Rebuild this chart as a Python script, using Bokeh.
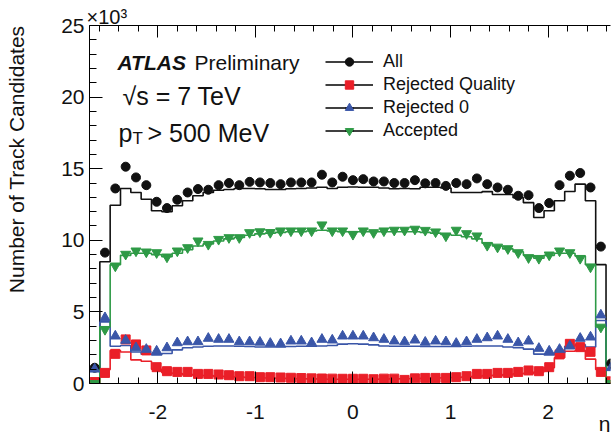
import numpy as np
from bokeh.plotting import figure
from bokeh.models import (Range1d, LinearAxis, Label, Legend, LegendItem, Title,
                          ColumnDataSource, SingleIntervalTicker, NumeralTickFormatter)
from bokeh.embed import file_html
from bokeh.resources import INLINE

# ---- binning: 51 bins in eta over [-2.7, 2.7] ----
eta_edges = np.linspace(-2.7, 2.7, 52)
eta_centers = 0.5 * (eta_edges[:-1] + eta_edges[1:])

# ---- data points (thousands of track candidates), bins k=-25..25 ----
all_pts = [1.1, 9.14, 13.62, 15.14, 14.39, 13.85, 12.69, 12.25, 12.83, 13.34,
           13.58, 13.53, 13.85, 14.0, 13.85, 14.08, 14.04, 14.0, 13.92, 14.04,
           14.04, 14.04, 14.58, 14.04, 14.44, 14.2, 14.27, 14.11, 14.11, 14.0,
           14.0, 14.2, 13.98, 14.0, 13.8, 14.0, 13.92, 14.32, 13.92, 13.69,
           13.53, 13.11, 13.15, 12.25, 12.6, 13.85, 14.51, 14.7, 13.69, 9.56, 1.4]
rejq_pts = [0.1, 0.74, 2.07, 3.08, 2.73, 2.31, 1.14, 0.86, 0.81, 0.81,
            0.67, 0.67, 0.63, 0.58, 0.51, 0.51, 0.44, 0.44, 0.42, 0.4,
            0.38, 0.36, 0.35, 0.34, 0.33, 0.33, 0.33, 0.3, 0.34, 0.34,
            0.25, 0.36, 0.39, 0.39, 0.39, 0.44, 0.51, 0.67, 0.67, 0.74,
            0.74, 0.81, 0.91, 0.86, 1.14, 2.03, 2.77, 2.54, 2.21, 0.81, 0.15]
rej0_pts = [1.0, 4.59, 3.31, 3.01, 2.49, 2.38, 2.26, 2.49, 2.84, 2.91,
            2.91, 3.15, 3.08, 3.08, 2.91, 2.91, 2.88, 2.8, 2.77, 2.96,
            2.96, 2.84, 3.08, 3.03, 3.31, 3.31, 3.31, 3.19, 3.08, 2.96,
            2.91, 3.03, 2.88, 2.96, 2.91, 2.8, 2.91, 3.08, 3.19, 3.31,
            3.08, 2.84, 2.96, 2.45, 2.26, 2.38, 2.61, 3.15, 3.24, 4.78, 1.1]
acc_pts = [0.0, 3.78, 8.21, 9.03, 9.26, 9.19, 9.14, 8.84, 9.26, 9.49,
           9.96, 9.72, 10.07, 10.19, 10.19, 10.54, 10.6, 10.55, 10.66, 10.66,
           10.66, 10.66, 11.08, 10.66, 10.66, 10.42, 10.66, 10.54, 10.66, 10.71,
           10.71, 10.78, 10.7, 10.59, 10.31, 10.71, 10.47, 10.31, 9.65, 9.53,
           9.42, 9.14, 8.79, 8.74, 8.98, 9.26, 9.14, 8.74, 8.14, 3.94, 0.0]

# ---- histograms (simulation) ----
all_hist = [1.05, 8.5, 12.45, 13.62, 13.34, 12.87, 12.06, 11.99, 12.41, 12.76,
            13.11, 13.34, 13.5, 13.55, 13.62, 13.62, 13.6, 13.55, 13.55, 13.6,
            13.62, 13.65, 13.7, 13.62, 13.7, 13.72, 13.7, 13.7, 13.65, 13.6,
            13.62, 13.6, 13.7, 13.7, 13.65, 13.34, 13.34, 13.34, 13.4, 13.2,
            13.2, 12.98, 12.63, 11.59, 12.06, 12.76, 13.41, 13.92, 12.76, 8.3, 1.05]
rejq_hist = [0.05, 0.97, 2.3, 2.2, 1.65, 1.55, 1.0, 0.75, 0.7, 0.62,
             0.58, 0.55, 0.5, 0.48, 0.45, 0.42, 0.4, 0.38, 0.36, 0.35,
             0.33, 0.32, 0.31, 0.3, 0.3, 0.3, 0.3, 0.3, 0.31, 0.32,
             0.33, 0.34, 0.36, 0.38, 0.4, 0.42, 0.45, 0.5, 0.55, 0.58,
             0.62, 0.68, 0.72, 0.8, 1.1, 1.8, 2.25, 2.3, 1.7, 0.98, 0.05]
rej0_hist = [1.0, 4.3, 2.6, 2.65, 2.2, 2.05, 2.0, 2.1, 2.35, 2.5,
             2.55, 2.6, 2.62, 2.62, 2.6, 2.58, 2.55, 2.55, 2.55, 2.58,
             2.6, 2.6, 2.62, 2.65, 2.75, 2.78, 2.75, 2.7, 2.62, 2.6,
             2.6, 2.6, 2.58, 2.58, 2.58, 2.58, 2.6, 2.62, 2.62, 2.62,
             2.55, 2.5, 2.4, 2.05, 2.0, 2.15, 2.6, 2.7, 2.55, 4.4, 1.0]
acc_hist = [0.0, 3.95, 8.3, 8.95, 9.1, 9.1, 9.0, 8.85, 9.1, 9.35,
            9.6, 9.75, 9.95, 10.1, 10.2, 10.35, 10.45, 10.5, 10.55, 10.6,
            10.6, 10.65, 10.7, 10.65, 10.6, 10.6, 10.6, 10.6, 10.6, 10.6,
            10.6, 10.6, 10.55, 10.5, 10.4, 10.35, 10.25, 10.1, 9.8, 9.6,
            9.4, 9.2, 8.95, 8.75, 8.95, 9.1, 9.1, 8.9, 8.3, 3.95, 0.0]

series_labels = ["All", "Rejected Quality", "Rejected 0", "Accepted"]
y_ticks_label = "\u00d710\u00b3"
x_title = "\u03b7"
y_title = "Number of Track Candidates"

BLACK = "#111111"
RED = "#ea1f28"
BLUE = "#3a56a8"
GREEN = "#2e9a46"
FONT = "Liberation Sans"

p = figure(width=611, height=432, output_backend="svg", toolbar_location=None,
           x_range=Range1d(-2.7, 2.64), y_range=Range1d(0, 25),
           min_border_left=89, min_border_right=1, min_border_top=25,
           min_border_bottom=49)
p.outline_line_color = None
p.xgrid.visible = False
p.ygrid.visible = False
p.background_fill_color = "white"
p.border_fill_color = "white"


def style_axis(ax, labels=True, major=12, minor=6):
    ax.axis_line_color = "black"
    ax.axis_line_width = 1
    ax.major_tick_in = major
    ax.major_tick_out = 0
    ax.minor_tick_in = minor
    ax.minor_tick_out = 0
    ax.major_tick_line_color = "black"
    ax.minor_tick_line_color = "black"
    ax.major_label_text_font = FONT
    ax.major_label_text_color = "#111111"
    if labels:
        ax.major_label_text_font_size = "21px"
    else:
        ax.major_label_text_font_size = "0px"
        ax.major_label_standoff = 0


xax = p.xaxis[0]
xax.ticker = SingleIntervalTicker(interval=1, num_minor_ticks=5)
xax.formatter = NumeralTickFormatter(format="0")
style_axis(xax)
xax.major_label_standoff = 21

yax = p.yaxis[0]
yax.ticker = SingleIntervalTicker(interval=5, num_minor_ticks=5)
style_axis(yax, major=13, minor=7)
yax.major_label_standoff = 5
# blank spacer label widens the axis panel so the title sits further out
yax.axis_label = " "
yax.axis_label_text_font = FONT
yax.axis_label_text_font_size = "21px"
yax.axis_label_standoff = 5

top_ax = LinearAxis(ticker=SingleIntervalTicker(interval=1, num_minor_ticks=5))
style_axis(top_ax, labels=False)
p.add_layout(top_ax, "above")


def add_title(text, side, align, size, standoff, offset=0):
    t = Title(text=text, align=align, text_font=FONT, text_font_size=size,
              text_font_style="normal", text_color="#111111",
              standoff=standoff, offset=offset)
    p.add_layout(t, side)

add_title(y_ticks_label, "above", "left", "20px", -4, offset=-3)
add_title(x_title, "below", "right", "21px", -24)
add_title(y_title, "left", "right", "21px", 0)


def step_xy(vals):
    xs = np.repeat(eta_edges, 2)[1:-1]
    ys = np.repeat(np.asarray(vals, dtype=float), 2)
    return xs, ys


hist_specs = [(all_hist, BLACK), (rejq_hist, RED), (rej0_hist, BLUE), (acc_hist, GREEN)]
for vals, col in hist_specs:
    xs, ys = step_xy(vals)
    p.line(xs, ys, line_color=col, line_width=1.6)

pt_specs = [
    (all_pts, BLACK, "circle", 9),
    (rejq_pts, RED, "square", 9),
    (rej0_pts, BLUE, "triangle", 10),
    (acc_pts, GREEN, "inverted_triangle", 10),
]
for vals, col, marker, size in pt_specs:
    src = ColumnDataSource(dict(x=eta_centers, y=vals))
    p.scatter("x", "y", source=src, marker=marker, size=size,
              fill_color=col, line_color=col)

# legend (ROOT style: black line + error tick + coloured marker)
items = []
for lab, (vals, col, marker, size) in zip(series_labels, pt_specs):
    dummy = ColumnDataSource(dict(x=[np.nan], y=[np.nan]))
    lr = p.line("x", "y", source=dummy, line_color="black", line_width=1.5)
    er = p.scatter("x", "y", source=dummy, marker="dash", angle=np.pi / 2,
                   size=11, line_color="black", line_width=1.3)
    mr = p.scatter("x", "y", source=dummy, marker=marker, size=size,
                   fill_color=col, line_color=col)
    items.append(LegendItem(label=lab, renderers=[lr, er, mr]))

legend = Legend(items=items, location=(236, 242), orientation="vertical",
                glyph_width=48, glyph_height=21, label_height=21, spacing=2,
                padding=0, margin=0, label_standoff=10,
                border_line_color=None, background_fill_alpha=0,
                label_text_font=FONT, label_text_font_size="18px",
                label_text_color="#111111")
p.add_layout(legend)

# texts inside the frame
def add_label(text, x, y, size, style="normal"):
    p.add_layout(Label(x=x, y=y, x_units="screen", y_units="screen", text=text,
                       text_font=FONT, text_font_size=size, text_font_style=style,
                       text_color="#111111", text_baseline="alphabetic"))

add_label("ATLAS", 28, 321, "21px", style="bold italic")
add_label("Preliminary", 105, 321, "21px")
add_label("\u221as = 7 TeV", 33, 288, "25px")
add_label("p", 29, 251, "25px")
add_label("T", 43, 245, "17px")
add_label("> 500 MeV", 58, 251, "25px")

open("out.html", "w").write(file_html(p, INLINE))
